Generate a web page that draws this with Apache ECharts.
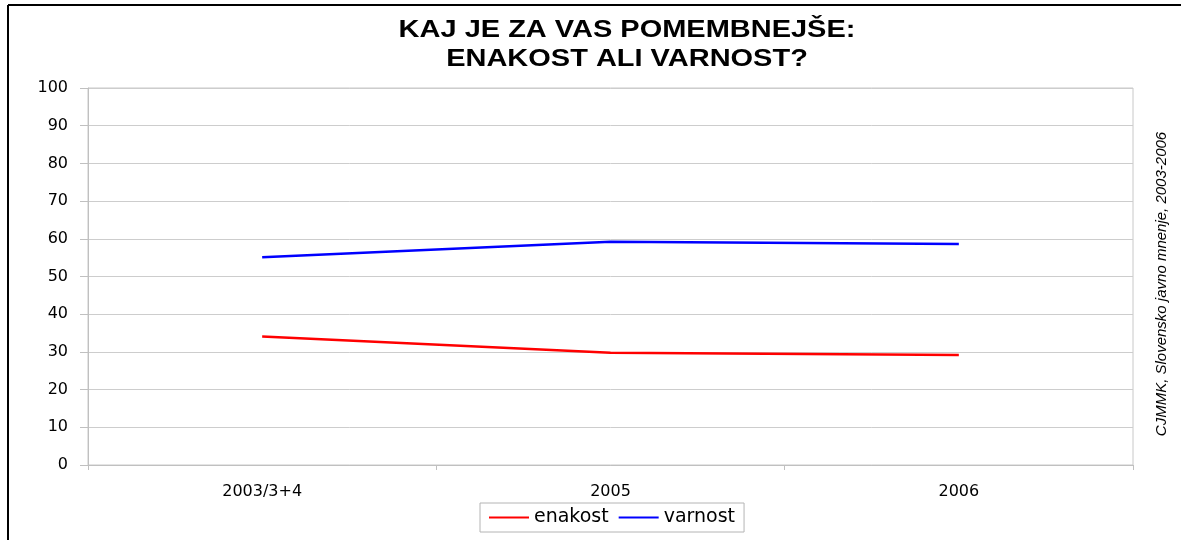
<!DOCTYPE html>
<html>
<head>
<meta charset="utf-8">
<script src="https://cdn.jsdelivr.net/npm/echarts@6/dist/echarts.min.js"></script>
<style>
	html, body { margin: 0; padding: 0; background: #fff; }
	#chart { width: 1181px; height: 540px; }
</style>
</head>
<body>
<div id="chart"></div>
<script>
// data
var categories = ['2003/3+4', '2005', '2006'];
var enakost = [34.1, 29.8, 29.2];
var varnost = [55.1, 59.2, 58.6];
var yTicks = { min: 0, max: 100, interval: 10 };

var titleLines = ['KAJ JE ZA VAS POMEMBNEJŠE:', 'ENAKOST ALI VARNOST?'];
var sourceNote = 'CJMMK, Slovensko javno mnenje, 2003-2006';

var labelFont = 'DejaVu Sans';

var chart = echarts.init(document.getElementById('chart'), null, { renderer: 'canvas' });

// the original picture is stretched sideways, so the title is widened with scaleX
function titleLine(text, y) {
	return {
		type: 'text',
		x: 627,
		y: y,
		scaleX: 1.26,
		style: {
			text: text,
			fontFamily: 'Liberation Sans',
			fontWeight: 'bold',
			fontSize: 23,
			fill: '#000',
			align: 'center',
			verticalAlign: 'middle'
		}
	};
}

chart.setOption({
	animation: false,
	backgroundColor: '#fff',
	grid: {
		left: 88,
		right: 48,
		top: 88,
		bottom: 75,
		show: true,
		borderColor: '#c8c8c8',
		borderWidth: 1
	},
	legend: {
		data: ['enakost', 'varnost'],
		left: 480,
		top: 503,
		icon: 'rect',
		itemWidth: 40,
		itemHeight: 2,
		itemGap: 10,
		padding: [5, 9],
		borderColor: '#b4b4b4',
		borderWidth: 1,
		textStyle: { fontFamily: labelFont, fontSize: 19, color: '#000' }
	},
	xAxis: {
		type: 'category',
		data: categories,
		boundaryGap: true,
		axisLine: { lineStyle: { color: '#c0c0c0', width: 1 } },
		axisTick: { show: true, length: 5, lineStyle: { color: '#c0c0c0' } },
		axisLabel: { fontFamily: labelFont, fontSize: 16, color: '#000', margin: 19 },
		splitLine: { show: false }
	},
	yAxis: {
		type: 'value',
		min: yTicks.min,
		max: yTicks.max,
		interval: yTicks.interval,
		axisLine: { show: true, lineStyle: { color: '#c0c0c0', width: 1 } },
		axisTick: { show: true, length: 8, lineStyle: { color: '#c0c0c0' } },
		axisLabel: { fontFamily: labelFont, fontSize: 16, color: '#000', margin: 20 },
		splitLine: { show: true, lineStyle: { color: '#cdcdcd', width: 1 } }
	},
	series: [
		{
			name: 'enakost',
			type: 'line',
			data: enakost,
			symbol: 'none',
			color: '#ff0000',
			lineStyle: { color: '#ff0000', width: 2.5 }
		},
		{
			name: 'varnost',
			type: 'line',
			data: varnost,
			symbol: 'none',
			color: '#0000ff',
			lineStyle: { color: '#0000ff', width: 2.5 }
		}
	],
	graphic: [
		// outer frame, only left and top edges show in the picture
		{ type: 'line', shape: { x1: 8, y1: 5, x2: 1181, y2: 5 }, style: { stroke: '#000', lineWidth: 2 } },
		{ type: 'line', shape: { x1: 8, y1: 5, x2: 8, y2: 540 }, style: { stroke: '#000', lineWidth: 2 } },
		titleLine(titleLines[0], 31),
		titleLine(titleLines[1], 60),
		{
			type: 'text',
			x: 1162,
			y: 284,
			rotation: Math.PI / 2,
			style: {
				text: sourceNote,
				fontFamily: 'Liberation Sans',
				fontStyle: 'italic',
				fontSize: 15,
				fill: '#000',
				align: 'center',
				verticalAlign: 'middle'
			}
		}
	]
});
</script>
</body>
</html>
